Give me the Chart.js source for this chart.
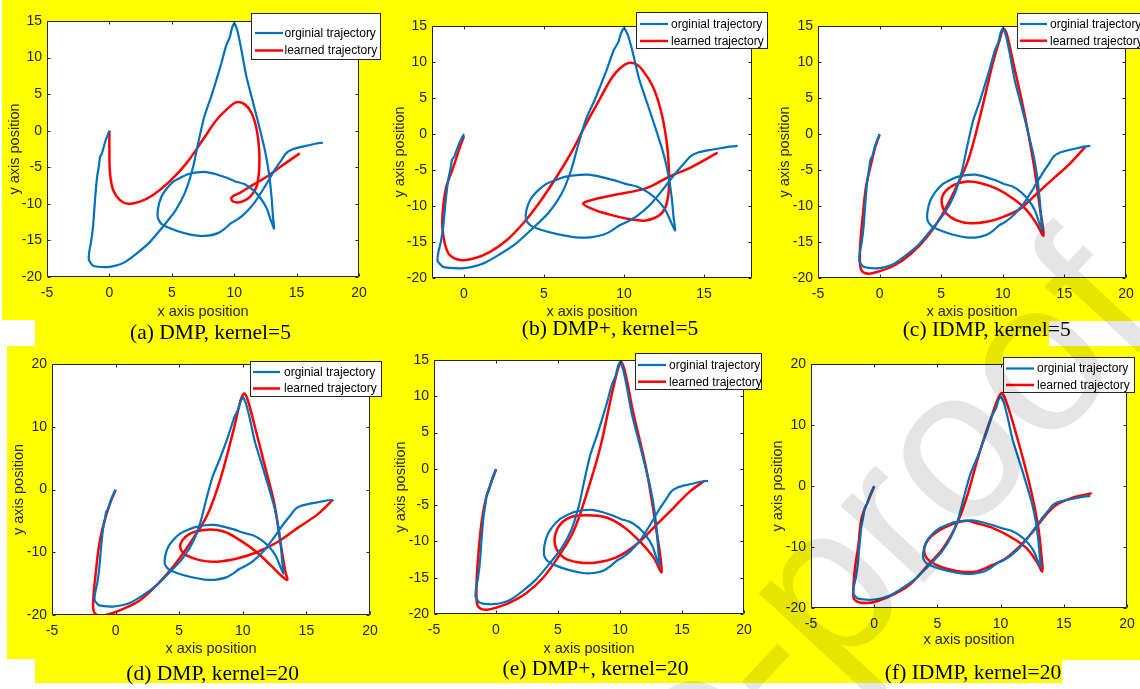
<!DOCTYPE html>
<html>
<head>
<meta charset="utf-8">
<script src="https://cdn.jsdelivr.net/npm/chart.js@4.4.0/dist/chart.umd.min.js"></script>
<style>
html,body{margin:0;padding:0;}
body{width:1140px;height:689px;position:relative;overflow:hidden;background:#ffff00;}
.wh{position:absolute;background:#ffffff;}
canvas{position:absolute;}
.cap{position:absolute;font-family:'Liberation Serif','Times New Roman',serif;font-size:21.5px;line-height:1;white-space:nowrap;transform:translate(-50%,-50%);color:#000;}
#wm{position:absolute;left:0;top:0;z-index:10;pointer-events:none;}
</style>
</head>
<body>
<div class="wh" style="left:0;top:0;width:2px;height:320px"></div>
<div class="wh" style="left:0;top:320px;width:35px;height:26px"></div>
<div class="wh" style="left:0;top:346px;width:7px;height:313px"></div>
<div class="wh" style="left:0;top:659px;width:35px;height:24px"></div>
<div class="wh" style="left:1049px;top:321px;width:91px;height:25px"></div>
<div class="wh" style="left:1062px;top:660px;width:78px;height:23px"></div>
<div class="wh" style="left:0;top:683px;width:1140px;height:6px"></div>
<div id="stage"></div>
<canvas id="wm" width="1140" height="689"></canvas>
<script>
// ---------- DATA ----------
const xTicksWide = [-5, 0, 5, 10, 15, 20];
const xTicksNarrow = [0, 5, 10, 15];
const yTicksStep5 = [-20, -15, -10, -5, 0, 5, 10, 15];
const yTicksStep10 = [-20, -10, 0, 10, 20];
const seriesNames = ['orginial trajectory', 'learned trajectory'];
const captions = ['(a) DMP, kernel=5', '(b) DMP+, kernel=5', '(c) IDMP, kernel=5',
                  '(d) DMP, kernel=20', '(e) DMP+, kernel=20', '(f) IDMP, kernel=20'];

const originalTrajectory = [
 [0,0],[-0.3,-1.3],[-0.6,-3.1],[-0.75,-3.6],[-0.85,-4.9],[-1.0,-6.5],[-1.15,-9.4],[-1.3,-12.9],
 [-1.45,-15.0],[-1.6,-16.4],[-1.65,-17.6],[-1.35,-18.4],[-0.9,-18.6],[-0.2,-18.65],[0.5,-18.45],
 [1.2,-18.0],[2.1,-16.9],[3.2,-15.3],[4.3,-13.1],[5.3,-10.9],[6.1,-8.3],[6.7,-5.0],[7.1,-1.8],
 [7.6,1.9],[8.2,4.9],[8.9,8.8],[9.35,11.6],[9.65,12.8],[9.8,13.9],[10.0,14.7],[10.25,13.7],
 [10.55,11.3],[10.95,7.6],[11.4,4.6],[12.0,0.6],[12.5,-3.0],[12.8,-6.0],[13.0,-9.2],[13.1,-11.6],
 [13.2,-13.4],[12.95,-12.3],[12.6,-10.6],[12.1,-9.2],[11.5,-8.1],[10.8,-7.3],[10.05,-6.9],
 [9.35,-6.4],[8.55,-5.95],[7.75,-5.65],[7.05,-5.7],[6.3,-5.95],[5.6,-6.5],[5.1,-7.0],[4.55,-8.0],
 [4.15,-9.1],[3.9,-10.6],[3.88,-11.9],[4.15,-12.7],[4.8,-13.3],[5.9,-13.95],[7.0,-14.35],
 [7.9,-14.35],[8.7,-14.0],[9.2,-13.45],[9.7,-12.7],[10.2,-12.2],[10.8,-11.4],[11.6,-9.9],
 [12.4,-7.8],[13.2,-5.5],[13.75,-4.1],[14.15,-3.1],[14.6,-2.6],[15.3,-2.25],[16.1,-1.95],
 [16.6,-1.75],[17.1,-1.65]
];
const learnedDMP5 = [
 [0,0],[0,-2.6],[0.05,-5.8],[0.3,-8.1],[0.85,-9.5],[1.5,-10.0],[2.45,-9.7],[3.5,-8.8],[4.85,-6.9],
 [6.2,-4.4],[7.5,-1.2],[8.6,1.5],[9.65,3.3],[10.2,3.9],[10.85,3.6],[11.4,2.4],[11.8,0.15],
 [12.0,-2.6],[12.0,-5.3],[11.8,-7.6],[11.4,-8.8],[10.9,-9.5],[10.3,-9.8],[9.85,-9.6],[9.8,-9.1],
 [10.45,-8.5],[11.5,-7.4],[12.6,-6.3],[13.9,-4.7],[15.25,-3.1]
];
const learnedDMPplus5 = [
 [0,-0.3],[-0.25,-1.8],[-0.65,-4.5],[-1.1,-7.3],[-1.3,-10.1],[-1.35,-12.9],[-1.2,-15.2],
 [-0.9,-16.8],[-0.25,-17.5],[0.6,-17.3],[1.6,-16.4],[2.65,-14.8],[3.7,-12.4],[4.75,-9.4],
 [5.8,-5.9],[6.8,-2.2],[7.65,1.5],[8.45,4.7],[9.3,8.0],[10.1,9.7],[10.65,9.8],[11.15,8.9],
 [11.8,6.6],[12.3,3.3],[12.65,-0.8],[12.8,-4.5],[12.8,-7.8],[12.6,-10.1],[12.2,-11.3],
 [11.35,-12.0],[10.55,-11.9],[9.3,-11.3],[8.25,-10.6],[7.45,-9.7],[8.0,-9.15],[9.3,-8.5],
 [11.35,-7.55],[12.8,-5.95],[14.25,-4.55],[15.85,-2.6]
];
const learnedIDMP5 = [
 [0,-0.1],[-0.35,-1.8],[-0.75,-4.6],[-1.1,-7.3],[-1.35,-11.1],[-1.55,-14.8],[-1.6,-17.6],
 [-1.45,-19.0],[-0.9,-19.4],[-0.1,-19.1],[1.15,-18.3],[2.5,-16.7],[3.85,-14.3],[5.05,-11.3],
 [6.25,-7.3],[7.2,-3.6],[8.15,2.4],[9.2,9.9],[9.75,13.1],[10.05,14.6],[10.3,14.0],[10.85,9.9],
 [11.7,3.3],[12.5,-4.1],[13.0,-10.1],[13.3,-14.1],[12.75,-12.5],[11.95,-10.6],[10.85,-9.0],
 [9.5,-7.6],[8.15,-6.8],[7.1,-6.6],[6.0,-7.1],[5.2,-8.3],[5.05,-9.7],[5.45,-11.1],[6.25,-12.0],
 [7.35,-12.4],[8.7,-12.2],[10.05,-11.5],[11.4,-10.4],[12.75,-8.3],[14.1,-6.2],[15.45,-4.1],
 [16.7,-1.8]
];
const learnedDMP20 = [
 [0,-0.1],[-0.4,-2.0],[-0.9,-5.2],[-1.3,-8.9],[-1.55,-13.1],[-1.75,-17.4],[-1.7,-19.5],
 [-1.2,-20.1],[-0.4,-19.8],[0.65,-19.0],[1.95,-17.6],[3.25,-15.2],[4.6,-12.1],[5.9,-8.4],
 [7.2,-4.1],[8.25,1.75],[9.3,9.7],[9.8,14.0],[10.1,15.3],[10.35,14.5],[10.85,10.8],[11.65,4.4],
 [12.45,-2.0],[12.95,-8.3],[13.35,-13.1],[13.5,-14.4],[12.95,-13.6],[12.2,-12.1],[11.1,-10.0],
 [9.8,-8.1],[8.5,-6.7],[7.2,-6.4],[5.9,-7.0],[5.1,-8.7],[5.35,-10.2],[6.7,-11.3],[8.0,-11.5],
 [9.55,-11.0],[11.1,-10.0],[12.7,-8.4],[14.4,-6.0],[15.85,-4.0],[17.1,-1.6]
];
const learnedDMPplus20 = [
 [0,-0.1],[-0.35,-1.7],[-0.8,-4.0],[-1.15,-7.2],[-1.4,-11.3],[-1.55,-15.0],[-1.55,-18.4],
 [-1.3,-19.2],[-0.75,-19.4],[0.05,-19.1],[1.15,-18.4],[2.45,-17.1],[3.8,-15.0],[5.15,-11.8],
 [6.25,-8.6],[7.3,-3.5],[8.4,2.9],[9.45,11.1],[10.05,14.7],[10.4,13.4],[11.05,7.9],[12.15,-0.3],
 [12.95,-8.6],[13.35,-14.2],[12.7,-12.2],[11.6,-10.0],[10.3,-8.0],[8.9,-6.7],[7.3,-6.4],
 [5.95,-6.7],[5.0,-8.1],[4.75,-10.4],[5.45,-12.2],[6.75,-12.9],[8.1,-12.9],[9.7,-12.2],
 [11.35,-10.4],[12.95,-7.7],[14.3,-5.4],[15.65,-3.1],[16.85,-1.6]
];
const learnedIDMP20 = [
 [0,-0.1],[-0.45,-2.3],[-1.0,-5.3],[-1.25,-9.7],[-1.55,-14.0],[-1.65,-18.1],[-1.4,-18.9],
 [-0.6,-19.2],[0.2,-18.9],[1.5,-17.8],[2.8,-16.2],[4.15,-13.2],[5.45,-10.2],[6.5,-6.4],
 [7.3,-2.0],[8.35,5.6],[9.4,12.1],[10.05,15.2],[10.45,13.8],[11.25,8.4],[12.3,0.2],[12.95,-6.4],
 [13.25,-11.8],[13.3,-14.0],[12.85,-12.4],[12.05,-10.2],[11.0,-8.6],[9.4,-6.9],[8.1,-6.1],
 [7.3,-5.7],[6.0,-6.4],[4.65,-8.0],[4.0,-9.9],[4.15,-11.8],[5.2,-13.2],[6.75,-14.0],[8.1,-14.0],
 [9.4,-12.9],[10.45,-11.8],[11.5,-9.9],[12.55,-7.5],[13.6,-4.7],[14.4,-3.1],[15.45,-2.1],
 [16.5,-1.5],[17.2,-1.2]
];

// ---------- LAYOUT ----------
const panels = [
 {learned: learnedDMP5, xr:[-5,20], xt:xTicksWide, yr:[-20,15], yt:yTicksStep5,
  plot:[47,21,359,277], ytx:15, xty:311.5, box:[251,13,381,60], rows:[33,50.5], line:[255,283], tx:284.5, cap:[210.5,333]},
 {learned: learnedDMPplus5, xr:[-2,18], xt:xTicksNarrow, yr:[-20,15], yt:yTicksStep5,
  plot:[432,26,752,278], ytx:400, xty:311.7, box:[636,12,768,49], rows:[24,41], line:[640,668], tx:671, cap:[610,329]},
 {learned: learnedIDMP5, xr:[-5,20], xt:xTicksWide, yr:[-20,15], yt:yTicksStep5,
  plot:[818,26,1126,278], ytx:785, xty:311.7, box:[1017,13,1146,49], rows:[24,40.7], line:[1020,1047], tx:1050, cap:[986.7,330]},
 {learned: learnedDMP20, xr:[-5,20], xt:xTicksWide, yr:[-20,20], yt:yTicksStep10,
  plot:[52,364,370,615], ytx:19, xty:649, box:[250,361,382,397], rows:[372,388.5], line:[253,280], tx:284, cap:[212.7,673.5]},
 {learned: learnedDMPplus20, xr:[-5,20], xt:xTicksWide, yr:[-20,15], yt:yTicksStep5,
  plot:[434,360,744,614], ytx:401, xty:649, box:[635,353,762,390], rows:[365,381.7], line:[638,666], tx:669, cap:[595.5,669]},
 {learned: learnedIDMP20, xr:[-5,20], xt:xTicksWide, yr:[-20,20], yt:yTicksStep10,
  plot:[811,364,1127,608], ytx:777.5, xty:640, box:[1003,357,1135,393], rows:[368.5,385], line:[1006,1034], tx:1037, cap:[973,672.5]}
];

const FONT = "'Liberation Sans', Arial, Helvetica, sans-serif";
const AXIS_COLOR = '#262626';
const BLUE = '#0072BD';
const RED = '#FF0000';
Chart.defaults.font.family = FONT;

const toXY = arr => arr.map(([x, y]) => ({x, y}));

function makePanel(p, idx) {
  const [PL, PT, PR, PB] = p.plot;
  const CL = PL - 47, CT = PT - 24;
  const CR = Math.max(PR + 16, p.box[2] + 2), CB = PB + 46;
  const W = CR - CL, H = CB - CT;
  const cv = document.createElement('canvas');
  cv.width = W; cv.height = H;
  cv.style.left = CL + 'px'; cv.style.top = CT + 'px';
  cv.style.width = W + 'px'; cv.style.height = H + 'px';
  document.getElementById('stage').appendChild(cv);

  const cap = document.createElement('div');
  cap.className = 'cap';
  cap.textContent = captions[idx];
  cap.style.left = p.cap[0] + 'px'; cap.style.top = p.cap[1] + 'px';
  document.getElementById('stage').appendChild(cap);

  const boxPlugin = {
    id: 'matlabBox',
    beforeDatasetsDraw(chart) {
      const {ctx, chartArea: a} = chart;
      ctx.save();
      ctx.fillStyle = '#ffffff';
      ctx.fillRect(a.left, a.top, a.right - a.left, a.bottom - a.top);
      ctx.restore();
    },
    afterDatasetsDraw(chart) {
      const {ctx, chartArea: a, scales} = chart;
      ctx.save();
      ctx.strokeStyle = AXIS_COLOR;
      ctx.lineWidth = 1;
      const l = a.left + 0.5, r = a.right - 0.5, t = a.top + 0.5, b = a.bottom - 0.5;
      ctx.beginPath();
      ctx.moveTo(l, t); ctx.lineTo(r, t); ctx.lineTo(r, b); ctx.lineTo(l, b); ctx.closePath();
      const TL = 3;
      p.xt.forEach(v => {
        const px = Math.round(scales.x.getPixelForValue(v)) + 0.5;
        ctx.moveTo(px, b); ctx.lineTo(px, b - TL);
        ctx.moveTo(px, t); ctx.lineTo(px, t + TL);
      });
      p.yt.forEach(v => {
        const py = Math.round(scales.y.getPixelForValue(v)) + 0.5;
        ctx.moveTo(l, py); ctx.lineTo(l + TL, py);
        ctx.moveTo(r, py); ctx.lineTo(r - TL, py);
      });
      ctx.stroke();
      ctx.restore();
    },
    afterDraw(chart) {
      const ctx = chart.ctx;
      ctx.save();
      const [bl, bt, br, bb] = p.box.map((v, i) => v - (i % 2 === 0 ? CL : CT));
      ctx.fillStyle = '#ffffff';
      ctx.fillRect(bl, bt, br - bl, bb - bt);
      ctx.strokeStyle = AXIS_COLOR;
      ctx.lineWidth = 1;
      ctx.strokeRect(Math.round(bl) + 0.5, Math.round(bt) + 0.5, Math.round(br - bl) - 1, Math.round(bb - bt) - 1);
      const colors = [BLUE, RED];
      ctx.font = '12px ' + FONT;
      ctx.textBaseline = 'middle';
      ctx.textAlign = 'left';
      p.rows.forEach((ry, i) => {
        const y = ry - CT;
        ctx.strokeStyle = colors[i];
        ctx.lineWidth = i === 0 ? 2.2 : 2.5;
        ctx.beginPath();
        ctx.moveTo(p.line[0] - CL, y); ctx.lineTo(p.line[1] - CL, y);
        ctx.stroke();
        ctx.fillStyle = '#000';
        ctx.fillText(seriesNames[i], p.tx - CL, y + 0.5);
      });
      ctx.restore();
    }
  };

  new Chart(cv.getContext('2d'), {
    type: 'scatter',
    data: {
      datasets: [
        {label: seriesNames[0], data: toXY(originalTrajectory), showLine: true, borderColor: BLUE,
         backgroundColor: BLUE, borderWidth: 2.2, pointRadius: 0, tension: 0.2, fill: false},
        {label: seriesNames[1], data: toXY(p.learned), showLine: true, borderColor: RED,
         backgroundColor: RED, borderWidth: 2.5, pointRadius: 0, tension: 0.35, fill: false}
      ]
    },
    options: {
      responsive: false, animation: false, events: [],
      layout: {padding: {left: 0, top: PT - CT, right: CR - PR, bottom: 0}},
      plugins: {legend: {display: false}, tooltip: {enabled: false}},
      scales: {
        x: {
          type: 'linear', min: p.xr[0], max: p.xr[1],
          afterBuildTicks: s => { s.ticks = p.xt.map(v => ({value: v})); },
          afterFit: s => { s.height = CB - PB; },
          grid: {display: false, drawTicks: false},
          border: {display: false},
          ticks: {font: {size: 14, family: FONT}, color: AXIS_COLOR, padding: 8, maxRotation: 0, autoSkip: false},
          title: {display: true, text: 'x axis position', color: AXIS_COLOR,
                  font: {size: 14.5, family: FONT, lineHeight: 1.2},
                  padding: {top: 0, bottom: (CB - p.xty) - 8.7}}
        },
        y: {
          type: 'linear', min: p.yr[0], max: p.yr[1],
          afterBuildTicks: s => { s.ticks = p.yt.map(v => ({value: v})); },
          afterFit: s => { s.width = PL - CL; },
          grid: {display: false, drawTicks: false},
          border: {display: false},
          ticks: {font: {size: 14, family: FONT}, color: AXIS_COLOR, padding: 5, autoSkip: false},
          title: {display: true, text: 'y axis position', color: AXIS_COLOR,
                  font: {size: 14.5, family: FONT, lineHeight: 1.2},
                  padding: {top: (p.ytx - CL) - 8.7, bottom: 0}}
        }
      }
    },
    plugins: [boxPlugin]
  });
}

panels.forEach(makePanel);

// ---------- WATERMARK ----------
(function () {
  const c = document.getElementById('wm');
  const ctx = c.getContext('2d');
  ctx.fillStyle = 'rgba(0,0,0,0.1)';
  ctx.font = '215px ' + FONT;
  ctx.translate(1044, 454);
  ctx.rotate(-47 * Math.PI / 180);
  ctx.textBaseline = 'alphabetic';
  ctx.textAlign = 'right';
  ctx.fillText('Journal Pre-pro', 0, 0);
  ctx.textAlign = 'left';
  ctx.fillText('of', 0, 0);
})();
</script>
</body>
</html>
